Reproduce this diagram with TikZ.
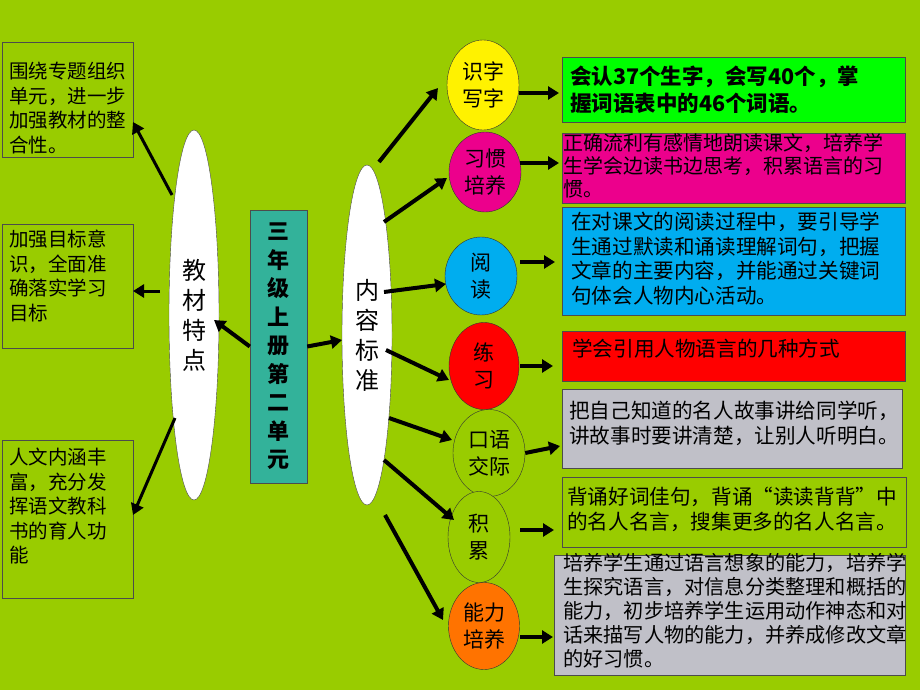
\documentclass[tikz,border=0pt]{standalone}
\usepackage{fontspec}
\setmainfont{Noto Sans CJK SC}
\usetikzlibrary{shapes.geometric,arrows.meta}
\definecolor{bg}{HTML}{99CC00}
\definecolor{teal2}{HTML}{33B29A}
\definecolor{gr}{HTML}{C0C0C8}
\tikzset{
 box/.style={draw=black!70,line width=0.8pt,anchor=north west,inner sep=0pt},
 txt/.style={anchor=north west,align=left,font=\fontsize{20.6}{24.5}\selectfont,inner sep=0pt},
 bigell/.style={ellipse,draw=black!70,fill=white,inner sep=0pt},
 sell/.style={ellipse,draw=black!80,inner sep=0pt,font=\fontsize{21}{27}\selectfont,align=center},
 arr/.style={-{Triangle[length=11pt,width=13pt]},line width=4pt,black},
}
\begin{document}
\begin{tikzpicture}[x=1pt,y=-1pt]
\fill[bg] (0,0) rectangle (920,690);
\useasboundingbox (0,0) rectangle (920,690);
% left boxes
\draw[box] (2,42) rectangle (133,157);
\node[txt,font=\fontsize{19.5}{24.5}\selectfont] (l1) at (9,62) {围绕专题组织\\单元，进一步\\加强教材的整\\合性。};
\draw[box] (2,224) rectangle (133,348);
\node[txt,font=\fontsize{19.5}{24.5}\selectfont] (l2) at (9,230) {加强目标意\\识，全面准\\确落实学习\\目标};
\draw[box] (2,440) rectangle (133,598);
\node[txt,font=\fontsize{19.5}{24.5}\selectfont] (l3) at (9,448) {人文内涵丰\\富，充分发\\挥语文教科\\书的育人功\\能};
\coordinate (b1) at (133,122);
\coordinate (b2) at (133,291);
\coordinate (b3) at (133,515);
% big ellipses
\node[bigell,minimum width=50pt,minimum height=370pt,font=\fontsize{24}{30}\selectfont,align=center] (jc) at (194,315) {教\\材\\特\\点};
\node[bigell,minimum width=50pt,minimum height=340pt,font=\fontsize{24}{30}\selectfont,align=center] (nr) at (367,335) {内\\容\\标\\准};
\node[draw=black!70,fill=teal2,minimum width=57pt,minimum height=273pt,inner sep=0pt,font=\bfseries\fontsize{22}{28.5}\selectfont,align=center] (ct) at (278.5,346.5) {三\\年\\级\\上\\册\\第\\二\\单\\元};
% center arrows
\draw[arr] (ct.west) -- (214,320);
\draw[arr] (ct.east) -- (342,340);
% left arrows
\draw[arr,line width=3pt] (172,195) -- (b1);
\draw[arr,line width=3pt] (160,291) -- (b2);
\draw[arr,line width=3pt] (175,418) -- (b3);
% small ellipses
\node[sell,fill=yellow,minimum width=72pt,minimum height=90pt] (e1) at (483,85) {识字\\写字};
\node[sell,fill=magenta,minimum width=72pt,minimum height=80pt] (e2) at (485,172) {习惯\\培养};
\node[sell,fill=cyan,minimum width=72pt,minimum height=78pt] (e3) at (481,276) {阅\\读};
\node[sell,fill=red,minimum width=70pt,minimum height=87pt] (e4) at (484,366) {练\\习};
\node[sell,fill=bg,minimum width=72pt,minimum height=87pt] (e5) at (489,453) {口语\\交际};
\node[sell,fill=bg,minimum width=62pt,minimum height=91pt] (e6) at (479,537) {积\\累};
\node[sell,fill=orange!90!red,minimum width=71pt,minimum height=87pt] (e7) at (484,626) {能力\\培养};
% arrows from 内容标准
\draw[arr] (379,162) -- (438,88);
\draw[arr] (384,222) -- (447,178);
\draw[arr] (384,292) -- (446,284);
\draw[arr] (386,350) -- (449,380);
\draw[arr] (389,418) -- (452,440);
\draw[arr] (384,460) -- (454,520);
\draw[arr] (385,515) -- (443,620);
% right boxes
\draw[box,fill=green] (562,57) rectangle (905,122);
\node[txt,font=\bfseries\fontsize{21.5}{27}\selectfont] (r1) at (570,66) {会认37个生字，会写40个，掌\\握词语表中的46个词语。};
\draw[box,fill=magenta] (562,133) rectangle (905,203);
\node[txt,font=\fontsize{20}{23}\selectfont] (r2) at (563,133) {正确流利有感情地朗读课文，培养学\\生学会边读书边思考，积累语言的习\\惯。};
\draw[box,fill=cyan] (562,207) rectangle (905,315);
\node[txt] (r3) at (571,212) {在对课文的阅读过程中，要引导学\\生通过默读和诵读理解词句，把握\\文章的主要内容，并能通过关键词\\句体会人物内心活动。};
\draw[box,fill=red] (562,331) rectangle (905,381);
\node[txt] (r4) at (572,339) {学会引用人物语言的几种方式};
\draw[box,fill=gr] (562,389) rectangle (902,468);
\node[txt] (r5) at (569,401) {把自己知道的名人故事讲给同学听，\\讲故事时要讲清楚，让别人听明白。};
\draw[box] (562,477) rectangle (906,547);
\node[txt] (r6) at (567,487) {背诵好词佳句，背诵“读读背背”中\\的名人名言，搜集更多的名人名言。};
\draw[box,fill=gr] (554,555) rectangle (905,675);
\node[txt,font=\fontsize{20.2}{24}\selectfont] (r7) at (563,553) {培养学生通过语言想象的能力，培养学\\生探究语言，对信息分类整理和概括的\\能力，初步培养学生运用动作神态和对\\话来描写人物的能力，并养成修改文章\\的好习惯。};
% right arrows
\draw[arr] (519,93) -- (559,93);
\draw[arr] (520,163) -- (559,163);
\draw[arr] (520,262) -- (555,262);
\draw[arr] (520,366) -- (553,366);
\draw[arr] (e5.east) -- (560,446);
\draw[arr] (520,530) -- (554,530);
\draw[arr] (520,637) -- (553,637);
\end{tikzpicture}
\end{document}
